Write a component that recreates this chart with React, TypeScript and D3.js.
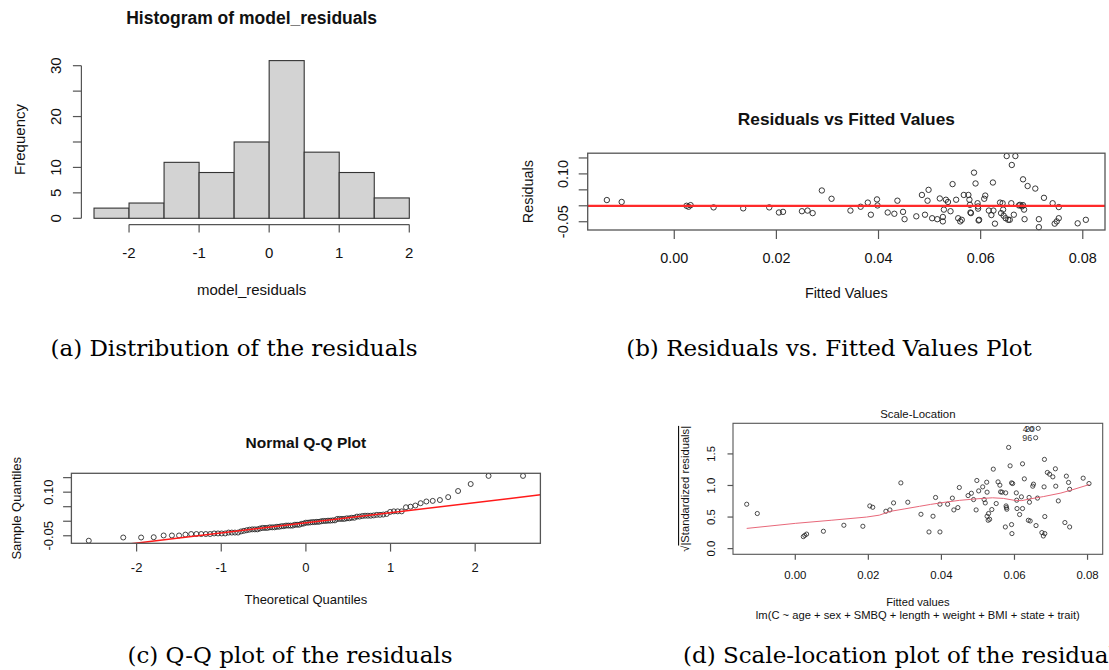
import React from "react";
import * as d3 from "d3";

// ---------------- DATA ----------------
// (a) histogram of model_residuals
const histBinEdges = [-2.5, -2, -1.5, -1, -0.5, 0, 0.5, 1, 1.5, 2];
const histCounts = [2, 3, 11, 9, 15, 31, 13, 9, 4];
const histXTicks = [-2, -1, 0, 1, 2];
const histYTicks = [0, 5, 10, 15, 20, 25, 30];
const histYTickLabels = ["0", "5", "10", "", "20", "", "30"];

// (b) residuals vs fitted values
const fittedValues = [
  -0.0132, -0.0103, 0.0024, 0.0028, 0.0032, 0.0077, 0.0135, 0.0186, 0.0205, 0.0213,
  0.025, 0.0261, 0.0271, 0.0289, 0.0308, 0.0345, 0.0365, 0.0379, 0.0385, 0.0397,
  0.0398, 0.0418, 0.0431, 0.0437, 0.0448, 0.0451, 0.0474, 0.0485, 0.0491, 0.0496,
  0.0498, 0.0505, 0.0515, 0.052, 0.0526, 0.0526, 0.0528, 0.0532, 0.0536, 0.0541,
  0.0545, 0.0552, 0.0556, 0.056, 0.0563, 0.0567, 0.0576, 0.0578, 0.0579, 0.058,
  0.0581, 0.0587, 0.059, 0.0594, 0.0595, 0.0595, 0.0596, 0.0597, 0.0607, 0.0609,
  0.0616, 0.0621, 0.0624, 0.0625, 0.0628, 0.0638, 0.064, 0.0643, 0.0644, 0.0645,
  0.0649, 0.0651, 0.0654, 0.0657, 0.066, 0.0661, 0.0665, 0.0668, 0.0675, 0.0677,
  0.0681, 0.0683, 0.0683, 0.0685, 0.0686, 0.0692, 0.0707, 0.0714, 0.0714, 0.0724,
  0.0741, 0.0745, 0.0749, 0.0753, 0.0753, 0.079, 0.0806,
];
const residualValues = [
  0.018, 0.012, 0.0, -0.003, 0.002, -0.005, -0.008, -0.005, -0.021, -0.019,
  -0.017, -0.015, -0.023, 0.048, 0.022, -0.015, -0.003, 0.01, -0.028, 0.02,
  0.001, -0.021, -0.025, 0.016, -0.019, -0.042, -0.033, 0.034, -0.028, 0.016,
  0.05, -0.039, -0.042, 0.023, -0.035, -0.049, -0.012, 0.019, 0.012, -0.017,
  0.068, 0.019, -0.039, -0.049, -0.044, 0.034, 0.034, 0.019, 0.003, -0.021,
  -0.023, 0.104, 0.07, 0.008, -0.002, -0.009, -0.046, -0.044, 0.022, 0.032,
  -0.015, -0.029, 0.073, -0.015, -0.056, 0.01, -0.023, 0.008, -0.012, -0.031,
  -0.039, 0.156, -0.044, -0.044, 0.008, 0.128, -0.028, 0.156, 0.001, 0.003,
  -0.002, 0.002, 0.083, -0.012, -0.042, 0.062, 0.054, -0.042, -0.067, 0.025,
  0.008, -0.056, -0.049, -0.039, -0.004, -0.055, -0.044,
];
const residYTicks = [-0.05, 0, 0.05, 0.1, 0.15];
const residYTickLabels = ["-0.05", "", "", "0.10", ""];
const fittedTicks = [0, 0.02, 0.04, 0.06, 0.08];
const fittedTickLabels = ["0.00", "0.02", "0.04", "0.06", "0.08"];

// (c) normal Q-Q
const qqXTicks = [-2, -1, 0, 1, 2];
const qqYTicks = [-0.05, 0, 0.05, 0.1, 0.15];
const qqYTickLabels = ["-0.05", "", "", "0.10", ""];

// (d) scale-location
const slFitted = [
  -0.0133, -0.0104, 0.0022, 0.0026, 0.0031, 0.0077, 0.0133, 0.0185, 0.0204, 0.0212,
  0.0248, 0.0259, 0.0269, 0.0289, 0.0308, 0.0344, 0.0366, 0.0377, 0.0384, 0.0396,
  0.0396, 0.0417, 0.043, 0.0434, 0.0445, 0.0449, 0.0473, 0.0482, 0.0488, 0.0495,
  0.0497, 0.0502, 0.0513, 0.0517, 0.052, 0.0524, 0.0525, 0.0525, 0.0529, 0.0528,
  0.0532, 0.0538, 0.0542, 0.055, 0.0555, 0.056, 0.0562, 0.0566, 0.0575, 0.0576,
  0.0577, 0.0578, 0.0579, 0.0584, 0.0588, 0.0592, 0.0595, 0.0592, 0.0593, 0.0605,
  0.0606, 0.0607, 0.0614, 0.0619, 0.0622, 0.0622, 0.0627, 0.0638, 0.0643, 0.064,
  0.0641, 0.0646, 0.065, 0.0652, 0.0658, 0.0659, 0.0665, 0.0663, 0.0675, 0.0679,
  0.0683, 0.0681, 0.0682, 0.0683, 0.069, 0.0696, 0.0705, 0.0712, 0.0713, 0.072,
  0.0738, 0.0742, 0.0748, 0.0751, 0.0751, 0.0788, 0.0804,
];
const slSqrtStdResid = [
  0.703, 0.556, 0.19, 0.21, 0.23, 0.275, 0.37, 0.354, 0.676, 0.655,
  0.592, 0.613, 0.724, 1.041, 0.735, 0.544, 0.264, 0.513, 0.81, 0.703,
  0.264, 0.703, 0.8, 0.613, 0.65, 0.968, 0.84, 0.877, 0.777, 0.613,
  1.079, 0.914, 0.978, 0.777, 0.724, 1.052, 0.894, 0.513, 0.556, 0.449,
  0.465, 0.619, 1.259, 0.714, 1.057, 1.005, 0.899, 0.894, 0.343, 0.883,
  0.676, 0.65, 0.624, 1.603, 1.311, 1.041, 1.031, 0.381, 0.238, 0.883,
  0.767, 0.635, 0.54, 0.82, 1.343, 0.635, 1.105, 0.449, 0.438, 0.81,
  0.735, 1.894, 0.989, 1.021, 1.756, 0.365, 1.905, 0.8, 0.254, 0.2,
  0.238, 0.978, 1.413, 0.508, 1.206, 1.179, 1.137, 1.264, 0.989, 0.756,
  0.413, 1.148, 1.048, 0.343, 0.94, 1.116, 1.031,
];
const slLabelFitted = [0.0646, 0.0665, 0.0658];
const slLabelValue = [1.894, 1.905, 1.756];
const slLabelText = ["4", "20", "96"];
const lowessX = [
  -0.0133, 0.0, 0.01, 0.0195, 0.023, 0.026, 0.03, 0.034, 0.037, 0.041, 0.045,
  0.05, 0.054, 0.057, 0.06, 0.062, 0.064, 0.068, 0.0727, 0.0763, 0.0805,
];
const lowessY = [
  0.32, 0.4, 0.45, 0.5, 0.53, 0.59, 0.63, 0.67, 0.7, 0.735, 0.765,
  0.79, 0.805, 0.795, 0.765, 0.76, 0.785, 0.825, 0.88, 0.94, 1.015,
];
const slYTicks = [0, 0.5, 1, 1.5];
const slYTickLabels = ["0.0", "0.5", "1.0", "1.5"];

const captions = [
  "(a) Distribution of the residuals",
  "(b) Residuals vs. Fitted Values Plot",
  "(c) Q-Q plot of the residuals",
  "(d) Scale-location plot of the residuals",
];

// ---------------- HELPERS ----------------
const SANS = "'Liberation Sans', Arial, Helvetica, sans-serif";
const SERIF = "'DejaVu Serif', 'Liberation Serif', serif";
const INK = "#111";
const AXIS = "#555";

function padExtent(ext: [number, number], f = 0.04): [number, number] {
  const d = (ext[1] - ext[0]) * f;
  return [ext[0] - d, ext[1] + d];
}

function qnorm(p: number): number {
  const a = [-39.69683028665376, 220.9460984245205, -275.9285104469687, 138.357751867269, -30.66479806614716, 2.506628277459239];
  const b = [-54.47609879822406, 161.5858368580409, -155.6989798598866, 66.80131188771972, -13.28068155288572];
  const c = [-0.007784894002430293, -0.3223964580411365, -2.400758277161838, -2.549732539343734, 4.374664141464968, 2.938163982698783];
  const d = [0.007784695709041462, 0.3224671290700398, 2.445134137142996, 3.754408661907416];
  const pl = 0.02425;
  if (p < pl) {
    const q = Math.sqrt(-2 * Math.log(p));
    return (((((c[0] * q + c[1]) * q + c[2]) * q + c[3]) * q + c[4]) * q + c[5]) / ((((d[0] * q + d[1]) * q + d[2]) * q + d[3]) * q + 1);
  }
  if (p <= 1 - pl) {
    const q = p - 0.5, r = q * q;
    return ((((((a[0] * r + a[1]) * r + a[2]) * r + a[3]) * r + a[4]) * r + a[5]) * q) / (((((b[0] * r + b[1]) * r + b[2]) * r + b[3]) * r + b[4]) * r + 1);
  }
  const q = Math.sqrt(-2 * Math.log(1 - p));
  return -(((((c[0] * q + c[1]) * q + c[2]) * q + c[3]) * q + c[4]) * q + c[5]) / ((((d[0] * q + d[1]) * q + d[2]) * q + d[3]) * q + 1);
}

type Scale = d3.ScaleLinear<number, number>;

function YAxis({ y, x0, ticks, labels, tick, labelOffset, fs, lineFrom, lineTo }: any) {
  return (
    <g>
      {lineFrom !== undefined && (
        <line x1={x0} x2={x0} y1={lineFrom} y2={lineTo} stroke={AXIS} strokeWidth={1.2} />
      )}
      {ticks.map((t: number, i: number) => (
        <g key={i}>
          <line x1={x0 - tick} x2={x0} y1={y(t)} y2={y(t)} stroke={AXIS} strokeWidth={1.2} />
          {labels[i] !== "" && (
            <text
              transform={`translate(${x0 - labelOffset},${y(t)}) rotate(-90)`}
              textAnchor="middle"
              fontFamily={SANS}
              fontSize={fs}
              fill={INK}
            >
              {labels[i]}
            </text>
          )}
        </g>
      ))}
    </g>
  );
}

function XAxis({ x, y0, ticks, labels, tick, labelBaseline, fs, line }: any) {
  return (
    <g>
      {line && (
        <line x1={x(ticks[0])} x2={x(ticks[ticks.length - 1])} y1={y0} y2={y0} stroke={AXIS} strokeWidth={1.2} />
      )}
      {ticks.map((t: number, i: number) => (
        <g key={i}>
          <line x1={x(t)} x2={x(t)} y1={y0} y2={y0 + tick} stroke={AXIS} strokeWidth={1.2} />
          <text x={x(t)} y={labelBaseline} textAnchor="middle" fontFamily={SANS} fontSize={fs} fill={INK}>
            {labels[i]}
          </text>
        </g>
      ))}
    </g>
  );
}

// ---------------- PANELS ----------------
function PanelA() {
  const x: Scale = d3.scaleLinear()
    .domain(padExtent([histBinEdges[0], histBinEdges[histBinEdges.length - 1]]))
    .range([81.4, 421.9]);
  const y: Scale = d3.scaleLinear().domain(padExtent([0, d3.max(histCounts) as number])).range([224.6, 54.3]);
  const cxm = (x.range()[0] + x.range()[1]) / 2;
  const cym = (y.range()[0] + y.range()[1]) / 2;
  return (
    <g>
      <text x={cxm} y={24} textAnchor="middle" fontFamily={SANS} fontWeight="bold" fontSize={17.5} fill={INK}>
        Histogram of model_residuals
      </text>
      {histCounts.map((c, i) => (
        <rect
          key={i}
          x={x(histBinEdges[i])}
          width={x(histBinEdges[i + 1]) - x(histBinEdges[i])}
          y={y(c)}
          height={y(0) - y(c)}
          fill="#d3d3d3"
          stroke="#333"
          strokeWidth={1.1}
        />
      ))}
      <YAxis y={y} x0={x.range()[0]} ticks={histYTicks} labels={histYTickLabels} tick={8.5} labelOffset={20.5} fs={15}
        lineFrom={y(0)} lineTo={y(30)} />
      <XAxis x={x} y0={y.range()[0]} ticks={histXTicks} labels={histXTicks.map(String).map(s => s.replace("-", "-"))}
        tick={8} labelBaseline={y.range()[0] + 33} fs={15} line />
      <text transform={`translate(${x.range()[0] - 56},${cym}) rotate(-90)`} textAnchor="middle" fontFamily={SANS} fontSize={15} fill={INK}>
        Frequency
      </text>
      <text x={cxm} y={y.range()[0] + 70} textAnchor="middle" fontFamily={SANS} fontSize={15} fill={INK}>
        model_residuals
      </text>
    </g>
  );
}

function PanelB() {
  const x: Scale = d3.scaleLinear().domain(padExtent(d3.extent(fittedValues) as [number, number])).range([587.7, 1105]);
  const y: Scale = d3.scaleLinear().domain(padExtent(d3.extent(residualValues) as [number, number])).range([230, 153.2]);
  const [l, r] = x.range();
  const [b, t] = y.range();
  return (
    <g>
      <text x={(l + r) / 2} y={125} textAnchor="middle" fontFamily={SANS} fontWeight="bold" fontSize={17.3} fill={INK}>
        Residuals vs Fitted Values
      </text>
      <YAxis y={y} x0={l} ticks={residYTicks} labels={residYTickLabels} tick={9} labelOffset={20} fs={14.4} />
      <XAxis x={x} y0={b} ticks={fittedTicks} labels={fittedTickLabels} tick={9} labelBaseline={b + 32.5} fs={14.4} />
      <text transform={`translate(${l - 55},${(b + t) / 2}) rotate(-90)`} textAnchor="middle" fontFamily={SANS} fontSize={14.4} fill={INK}>
        Residuals
      </text>
      <text x={(l + r) / 2} y={b + 67.5} textAnchor="middle" fontFamily={SANS} fontSize={14.4} fill={INK}>
        Fitted Values
      </text>
      {fittedValues.map((f, i) => (
        <circle key={i} cx={x(f)} cy={y(residualValues[i])} r={2.7} fill="none" stroke="#222" strokeWidth={0.9} />
      ))}
      <line x1={l} x2={r} y1={y(0)} y2={y(0)} stroke="#ff2a2a" strokeWidth={2.2} />
      <rect x={l} y={t} width={r - l} height={b - t} fill="none" stroke={AXIS} strokeWidth={1.3} />
    </g>
  );
}

function PanelC() {
  const n = residualValues.length;
  const sample = residualValues.slice().sort(d3.ascending);
  const theoretical = sample.map((_, i) => qnorm((i + 0.5) / n));
  const x: Scale = d3.scaleLinear().domain(padExtent(d3.extent(theoretical) as [number, number])).range([71.4, 540.4]);
  const y: Scale = d3.scaleLinear().domain(padExtent(d3.extent(sample) as [number, number])).range([543.3, 473.3]);
  const [l, r] = x.range();
  const [b, t] = y.range();
  const y25 = d3.quantile(sample, 0.25) as number;
  const y75 = d3.quantile(sample, 0.75) as number;
  const x25 = qnorm(0.25), x75 = qnorm(0.75);
  const slope = (y75 - y25) / (x75 - x25);
  const intercept = y25 - slope * x25;
  const [d0, d1] = x.domain();
  return (
    <g>
      <defs>
        <clipPath id="clipC">
          <rect x={l} y={t} width={r - l} height={b - t} />
        </clipPath>
      </defs>
      <text x={(l + r) / 2} y={448.3} textAnchor="middle" fontFamily={SANS} fontWeight="bold" fontSize={15.5} fill={INK}>
        Normal Q-Q Plot
      </text>
      <YAxis y={y} x0={l} ticks={qqYTicks} labels={qqYTickLabels} tick={8.3} labelOffset={18.6} fs={13} />
      <XAxis x={x} y0={b} ticks={qqXTicks} labels={qqXTicks.map(String)} tick={8.3} labelBaseline={571.5} fs={13} />
      <text transform={`translate(${l - 50.8},${(b + t) / 2}) rotate(-90)`} textAnchor="middle" fontFamily={SANS} fontSize={13} fill={INK}>
        Sample Quantiles
      </text>
      <text x={(l + r) / 2} y={603.6} textAnchor="middle" fontFamily={SANS} fontSize={13} fill={INK}>
        Theoretical Quantiles
      </text>
      {sample.map((s, i) => (
        <circle key={i} cx={x(theoretical[i])} cy={y(s)} r={2.5} fill="none" stroke="#222" strokeWidth={0.85} />
      ))}
      <g clipPath="url(#clipC)">
        <line x1={x(d0)} x2={x(d1)} y1={y(intercept + slope * d0)} y2={y(intercept + slope * d1)} stroke="#ff1a1a" strokeWidth={1.5} />
      </g>
      <rect x={l} y={t} width={r - l} height={b - t} fill="none" stroke={AXIS} strokeWidth={1.3} />
    </g>
  );
}

function PanelD() {
  const x: Scale = d3.scaleLinear().domain(padExtent(d3.extent(slFitted) as [number, number])).range([733, 1102.7]);
  const y: Scale = d3.scaleLinear().domain([-0.09, 1.985]).range([554.3, 423.3]);
  const [l, r] = x.range();
  const [b, t] = y.range();
  const lowess = d3.line<number>().x((v) => x(v)).y((_, i) => y(lowessY[i]));
  return (
    <g>
      <text x={(l + r) / 2} y={418} textAnchor="middle" fontFamily={SANS} fontSize={11.4} fill={INK}>
        Scale-Location
      </text>
      <YAxis y={y} x0={l} ticks={slYTicks} labels={slYTickLabels} tick={5.5} labelOffset={18.5} fs={11.4} />
      <XAxis x={x} y0={b} ticks={fittedTicks} labels={fittedTickLabels} tick={5.5} labelBaseline={579} fs={11.4} />
      <text transform={`translate(${l - 44},${(b + t) / 2}) rotate(-90)`} textAnchor="middle" fontFamily={SANS} fontSize={11.2} fill={INK}>
        √<tspan textDecoration="overline" style={{ textDecoration: "overline" }}>|Standardized residuals|</tspan>
      </text>
      <text x={(l + r) / 2} y={605.8} textAnchor="middle" fontFamily={SANS} fontSize={11.2} fill={INK}>
        Fitted values
      </text>
      <text x={(l + r) / 2} y={619} textAnchor="middle" fontFamily={SANS} fontSize={11.2} fill={INK}>
        lm(C ~ age + sex + SMBQ + length + weight + BMI + state + trait)
      </text>
      {slFitted.map((f, i) => (
        <circle key={i} cx={x(f)} cy={y(slSqrtStdResid[i])} r={2.1} fill="none" stroke="#222" strokeWidth={0.8} />
      ))}
      <path d={lowess(lowessX) as string} fill="none" stroke="#e8687a" strokeWidth={1} />
      {slLabelText.map((s, i) => (
        <text key={i} x={x(slLabelFitted[i]) - 3.5} y={y(slLabelValue[i])} dy="0.35em" textAnchor="end"
          fontFamily={SANS} fontSize={9} fill="#333">
          {s}
        </text>
      ))}
      <rect x={l} y={t} width={r - l} height={b - t} fill="none" stroke={AXIS} strokeWidth={1.1} />
    </g>
  );
}

function Captions() {
  const common = { fontFamily: SERIF, fontSize: 23, fill: "#000" } as any;
  return (
    <g>
      <text x={234} y={356} textAnchor="middle" {...common}>{captions[0]}</text>
      <text x={829} y={356} textAnchor="middle" {...common}>{captions[1]}</text>
      <text x={290} y={663} textAnchor="middle" {...common}>{captions[2]}</text>
      <text x={683} y={663} textAnchor="start" {...common}>{captions[3]}</text>
    </g>
  );
}

export default function App() {
  return (
    <div style={{ position: "absolute", left: 0, top: 0, width: 1109, height: 670, background: "#fff" }}>
      <svg width={1109} height={670} viewBox="0 0 1109 670" style={{ display: "block" }}>
        <rect width={1109} height={670} fill="#fff" />
        <PanelA />
        <PanelB />
        <PanelC />
        <PanelD />
        <Captions />
      </svg>
    </div>
  );
}
